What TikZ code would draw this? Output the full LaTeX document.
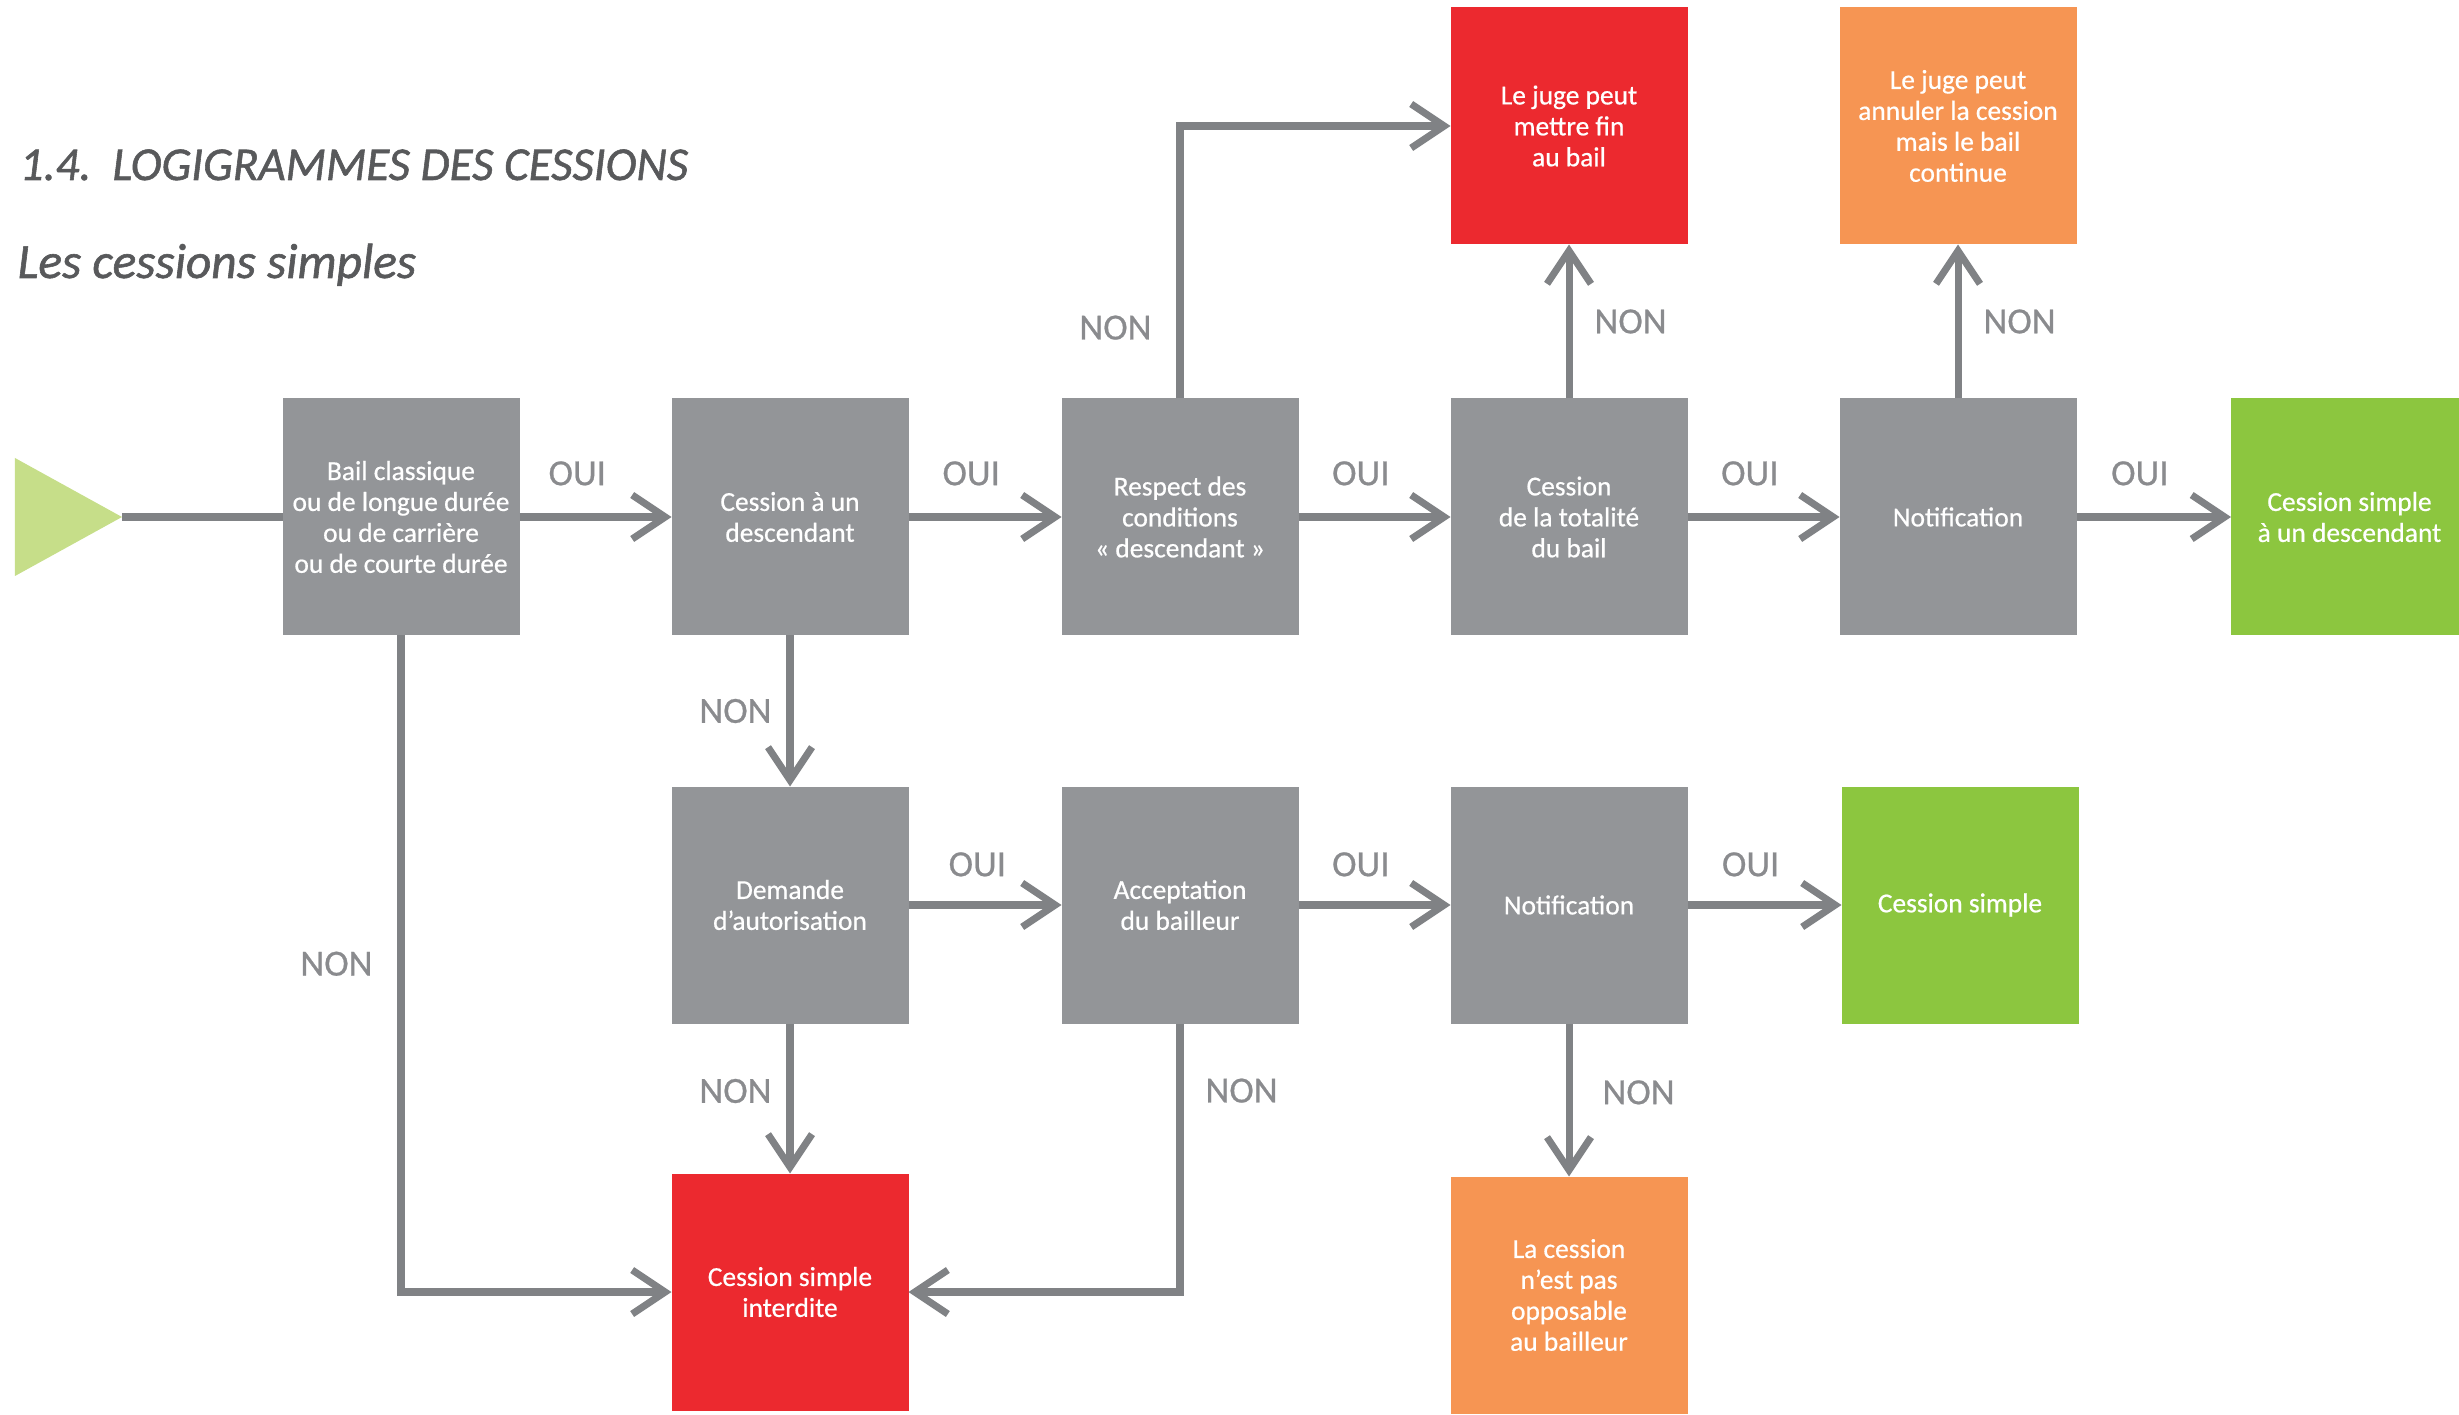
\documentclass[tikz,border=0pt]{standalone}
\usepackage{fontspec}
\setmainfont{Carlito}
\newfontfamily\demigras{Carlito}[FakeBold=0.6]
\newfontfamily\titregras{Carlito}[FakeBold=1.2]
\usetikzlibrary{arrows.meta, positioning}

\definecolor{boxgray}{HTML}{939598}
\definecolor{linegray}{HTML}{808285}
\definecolor{txtgray}{HTML}{8A8B8E}
\definecolor{titlegray}{HTML}{58595B}
\definecolor{stopred}{HTML}{EC292F}
\definecolor{warnorange}{HTML}{F69553}
\definecolor{okgreen}{HTML}{8CC63F}
\definecolor{startgreen}{HTML}{C6DE89}

\tikzset{
	etape/.style={fill=boxgray, text=white, minimum width=2.37cm, minimum height=2.37cm,
		inner sep=0pt, outer sep=0pt, align=center, font=\demigras\fontsize{7.8}{8.8}\selectfont},
	fin/.style={etape, fill=stopred},
	alerte/.style={etape, fill=warnorange},
	issue/.style={etape, fill=okgreen},
	fleche/.style={draw=linegray, line width=2pt, -{Straight Barb[length=3.3mm,width=4.4mm]}},
	trait/.style={draw=linegray, line width=2pt},
	reponse/.style={text=txtgray, inner sep=0pt, font=\demigras\fontsize{10.5}{12}\selectfont},
}

\begin{document}
\begin{tikzpicture}
			\useasboundingbox (0, 0) rectangle (24.59, -14.15);
			\clip (0, 0) rectangle (24.59, -14.15);
			
			\node[anchor=base west, text=titlegray, inner sep=0pt, font=\titregras\fontsize{13.4}{15}\selectfont\itshape] (titre) at (0.19, -1.80) {1.4.\ \ LOGIGRAMMES DES CESSIONS};
			\node[anchor=base west, text=titlegray, inner sep=0pt, font=\titregras\fontsize{14.05}{15}\selectfont\itshape] (soustitre) at (0.17, -2.78) {Les cessions simples};
			
			% depart
			\fill[startgreen] (0.15, -4.58) -- (0.15, -5.76) -- (1.22, -5.17) -- cycle;
			\coordinate (depart) at (1.22, -5.17);
			
			% premiere ligne
			\node[etape] (bail) at (4.01, -5.17) {Bail classique\\ou de longue durée\\ou de carrière\\ou de courte durée};
			\node[etape] (descendant) at (7.90, -5.17) {Cession à un\\descendant};
			\node[etape] (respect) at (11.80, -5.17) {Respect des\\conditions\\«~descendant~»};
			\node[etape] (totalite) at (15.69, -5.17) {Cession\\de la totalité\\du bail};
			\node[etape] (notif) at (19.58, -5.17) {Notification};
			\node[issue] (succes) at (23.495, -5.17) {Cession simple\\à un descendant};
			
			\node[fin] (jugefin) at (15.69, -1.26) {Le juge peut\\mettre fin\\au bail};
			\node[alerte] (annuler) at (19.58, -1.26) {Le juge peut\\annuler la cession\\mais le bail\\continue};
			
			% deuxieme ligne
			\node[etape] (demande) at (7.90, -9.05) {Demande\\d’autorisation};
			\node[etape] (accept) at (11.80, -9.05) {Acceptation\\du bailleur};
			\node[etape] (notifb) at (15.69, -9.05) {Notification};
			\node[issue] (simple) at (19.60, -9.05) {Cession simple};
			
			\node[fin] (interdite) at (7.90, -12.92) {Cession simple\\interdite};
			\node[alerte] (opposable) at (15.69, -12.95) {La cession\\n’est pas\\opposable\\au bailleur};
			
			\draw[trait] (depart) -- (bail.west);
			\draw[fleche] (bail) -- node[reponse, pos=0.38, above=0.28cm] (oui1) {OUI} (descendant);
			\draw[fleche] (descendant) -- node[reponse, pos=0.41, above=0.28cm] (oui2) {OUI} (respect);
			\draw[fleche] (respect) -- node[reponse, pos=0.41, above=0.28cm] (oui3) {OUI} (totalite);
			\draw[fleche] (totalite) -- node[reponse, pos=0.41, above=0.28cm] (oui4) {OUI} (notif);
			\draw[fleche] (notif) -- node[reponse, pos=0.41, above=0.28cm] (oui5) {OUI} (succes);
			
			\draw[fleche] (respect.north) |- node[reponse, pos=0.13, left=0.25cm] (non1) {NON} (jugefin.west);
			\draw[fleche] (totalite) -- node[reponse, right=0.22cm] (non2) {NON} (jugefin);
			\draw[fleche] (notif) -- node[reponse, right=0.22cm] (non3) {NON} (annuler);
			\draw[fleche] (descendant) -- node[reponse, left=0.15cm] (non4) {NON} (demande);
			
			\draw[fleche] (demande) -- node[reponse, pos=0.45, above=0.25cm] (oui6) {OUI} (accept);
			\draw[fleche] (accept) -- node[reponse, pos=0.41, above=0.25cm] (oui7) {OUI} (notifb);
			\draw[fleche] (notifb) -- node[reponse, pos=0.41, above=0.25cm] (oui8) {OUI} (simple);
			
			\draw[fleche] (bail.south) |- node[reponse, pos=0.25, left=0.25cm] (non5) {NON} (interdite.west);
			\draw[fleche] (demande) -- node[reponse, pos=0.45, left=0.15cm] (non6) {NON} (interdite);
			\draw[fleche] (accept.south) |- node[reponse, pos=0.125, right=0.22cm] (non7) {NON} (interdite.east);
			\draw[fleche] (notifb) -- node[reponse, pos=0.45, right=0.3cm] (non8) {NON} (opposable);
			
		\end{tikzpicture}
\end{document}
